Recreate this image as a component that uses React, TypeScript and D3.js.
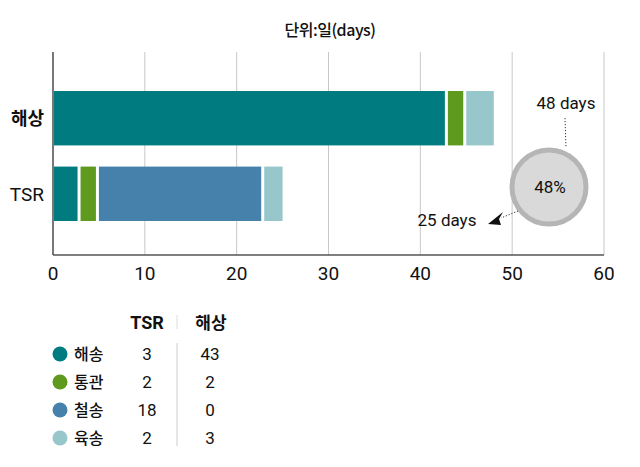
import React from "react";
import * as d3 from "d3";

const categories = ["해상", "TSR"];
const modes = ["해송", "통관", "철송", "육송"];
const tsrValues = [3, 2, 18, 2];
const seaValues = [43, 2, 0, 3];
const colors = ["#007c80", "#5e9a1e", "#4681ac", "#97c7cb"];
const xTicks = [0, 10, 20, 30, 40, 50, 60];
const title = "단위:일(days)";
const seaTotalLabel = "48 days";
const tsrTotalLabel = "25 days";
const ratioLabel = "48%";

const FONT = "'Noto Sans CJK KR', 'Noto Sans', sans-serif";
const LAT = "'Liberation Sans Narrow', 'Roboto', 'Noto Sans CJK KR', sans-serif";

export default function App() {
  const W = 640, H = 467;
  const x = d3.scaleLinear().domain([0, 60]).range([53, 604]);
  const y = d3.scaleBand<string>().domain(categories).range([57, 255]).paddingInner(0.28).paddingOuter(0.45);
  const valuesByCat: Record<string, number[]> = { "해상": seaValues, "TSR": tsrValues };
  const stackData = categories.map((c) => {
    const vals = valuesByCat[c];
    let acc = 0;
    return vals.map((v, i) => {
      const s = { cat: c, i, x0: acc, x1: acc + v };
      acc += v;
      return s;
    });
  });
  const gap = 3;
  const rowY = [354, 382, 410, 438];

  return (
    <svg width={W} height={H} style={{ position: "absolute", left: 0, top: 0, background: "#fff" }} fontFamily={FONT}>
      <rect width={W} height={H} fill="#fff" />
      <text x={330} y={36} textAnchor="middle" fontSize={16} fontWeight={500} fill="#111" letterSpacing={-0.5}>{title}</text>
      {xTicks.map((t) => (
        <line key={t} x1={x(t)} x2={x(t)} y1={52} y2={255} stroke="#c8c8c8" strokeWidth={1} />
      ))}
      {stackData.map((segs, ci) =>
        segs.filter((s) => s.x1 > s.x0).map((s, k, arr) => {
          const last = k === arr.length - 1;
          const x0 = x(s.x0) + (k === 0 ? 1 : 0);
          const w = x(s.x1) - x0 - (last ? 0 : gap);
          return (
            <rect key={ci + "-" + s.i} x={x0} y={y(s.cat)!} width={w} height={y.bandwidth()} fill={colors[s.i]} />
          );
        })
      )}
      <line x1={53} x2={53} y1={52} y2={255} stroke="#555" strokeWidth={1.5} />
      <line x1={53} x2={604} y1={255} y2={255} stroke="#555" strokeWidth={1.5} />
      {xTicks.map((t) => (
        <text key={t} x={x(t)} y={280} textAnchor="middle" fontSize={19} fill="#111" fontFamily={LAT}>{t}</text>
      ))}
      {categories.map((c, i) => (
        <text key={c} x={44} y={y(c)! + y.bandwidth() / 2 + 7} textAnchor="end" fontSize={i === 0 ? 18 : 19}
          fontWeight={i === 0 ? 700 : 400} fill="#111" fontFamily={i === 0 ? FONT : LAT}>{c}</text>
      ))}

      {/* circle annotation */}
      <circle cx={549} cy={187} r={37} fill="#d9d9d9" stroke="#b5b5b5" strokeWidth={5} />
      <text x={550} y={193} textAnchor="middle" fontSize={17} fill="#111" fontFamily={LAT}>{ratioLabel}</text>
      <text x={566} y={109} textAnchor="middle" fontSize={17} fill="#111" fontFamily={LAT}>{seaTotalLabel}</text>
      <line x1={565} y1={118} x2={566} y2={148} stroke="#333" strokeWidth={1} strokeDasharray="1.2,1.8" />
      <text x={447} y={226} textAnchor="middle" fontSize={17} fill="#111" fontFamily={LAT}>{tsrTotalLabel}</text>
      <line x1={518} y1={211} x2={501} y2={218} stroke="#333" strokeWidth={1} strokeDasharray="1.2,1.8" />
      <path d="M488,224 L503,212 L499,219 L501,225 Z" fill="#111" />

      {/* legend table */}
      <text x={147} y={329} textAnchor="middle" fontSize={18} fontWeight="bold" fill="#111" fontFamily="'Liberation Sans Narrow', 'Roboto', sans-serif">TSR</text>
      <line x1={177} x2={177} y1={315} y2={329} stroke="#ddd" strokeWidth={1} />
      <text x={211} y={329} textAnchor="middle" fontSize={17} fontWeight="bold" fill="#111">해상</text>
      <line x1={177} x2={177} y1={343} y2={446} stroke="#ccc" strokeWidth={1} />
      {modes.map((m, i) => (
        <g key={m}>
          <circle cx={60} cy={rowY[i]} r={7.5} fill={colors[i]} />
          <text x={74} y={rowY[i] + 6} fontSize={16} fontWeight={500} fill="#111">{m}</text>
          <text x={147} y={rowY[i] + 6} textAnchor="middle" fontSize={17} fill="#111" fontFamily={LAT}>{tsrValues[i]}</text>
          <text x={210} y={rowY[i] + 6} textAnchor="middle" fontSize={17} fill="#111" fontFamily={LAT}>{seaValues[i]}</text>
        </g>
      ))}
    </svg>
  );
}
